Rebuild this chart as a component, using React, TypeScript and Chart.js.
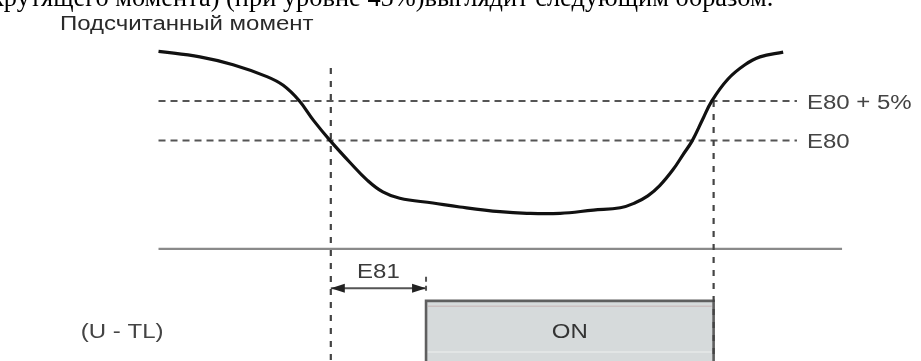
import React, { useEffect, useRef } from "react";
import { Chart, registerables } from "chart.js";

Chart.register(...registerables);

// ---- data ----
const timeAxis = [0, 6.6, 11.9, 17.3, 19.9, 22.4, 24.8, 27.4, 30.6, 33.3, 35.8, 38.5, 43.8, 48.1, 54.5, 58.8, 64.1, 69.4, 73.7, 76.0, 78.1, 80.0, 82.1, 83.7, 85.2, 86.8, 88.3, 90.9, 93.6, 96.0, 99.7];
const torque = [91.3, 90.6, 89.6, 88.1, 87.0, 85.1, 82.5, 80.0, 77.2, 75.0, 73.5, 72.7, 72.1, 71.6, 71.0, 70.8, 70.8, 71.2, 71.5, 72.1, 73.0, 74.3, 76.3, 78.2, 80.0, 82.6, 85.0, 87.8, 89.6, 90.6, 91.2];

const thresholdLabels = ["E80 + 5%", "E80"];
const thresholdValues = [85, 80];
const thresholdSpan = [0, 101.9];

const markerTimes = [27.5, 88.6];
const markerTops = [89.2, 85.0];

const baselineLevel = 66.3;
const baselineSpan = [0, 109.1];

const onWindow = [42.7, 88.6];
const onLevel = 1;
const offLevel = 0;
const onInnerLevels = [0.91, 0.15];
const delayLevel = 1.21;
const delayTick = [1.4, 1.12];

const titleText = "Подсчитанный момент";
const captionText = "крутящего момента) (при уровне 45%)выглядит следующим образом.";
const delayLabel = "E81";
const onLabel = "ON";
const signalLabel = "(U - TL)";

const X_RANGE = [-25.3, 121.7];
const Y_RANGE = [52.1, 97.8];
const SIG_RANGE = [0, 6];

const SANS = '"Liberation Sans", Arial, sans-serif';
const STRETCH = 1.2;

function drawText(ctx: any, text: string, x: number, y: number, align: string, color: string, baseline = "middle") {
  ctx.save();
  ctx.translate(x, y);
  ctx.scale(STRETCH, 1);
  ctx.font = "20px " + SANS;
  ctx.fillStyle = color;
  ctx.textAlign = align;
  ctx.textBaseline = baseline;
  ctx.fillText(text, 0, 0);
  ctx.restore();
}

const labelsPlugin = {
  id: "diagramLabels",
  afterDatasetsDraw(chart: any) {
    const { ctx } = chart;
    const x = chart.scales.x;
    const y = chart.scales.y;
    const s = chart.scales.ySig;
    ctx.save();

    // arrowheads for E81
    const pts = chart.getDatasetMeta(6).data;
    if (pts && pts.length === 2) {
      const p0 = pts[0];
      const p1 = pts[1];
      ctx.fillStyle = "#222";
      ctx.beginPath();
      ctx.moveTo(p0.x, p0.y);
      ctx.lineTo(p0.x + 14, p0.y - 4.5);
      ctx.lineTo(p0.x + 14, p0.y + 4.5);
      ctx.closePath();
      ctx.fill();
      ctx.beginPath();
      ctx.moveTo(p1.x, p1.y);
      ctx.lineTo(p1.x - 14, p1.y - 4.5);
      ctx.lineTo(p1.x - 14, p1.y + 4.5);
      ctx.closePath();
      ctx.fill();
      drawText(ctx, delayLabel, (p0.x + p1.x) / 2, p0.y - 16, "center", "#3a3a3a");
    }

    // threshold labels
    thresholdLabels.forEach((lab, i) => {
      drawText(ctx, lab, x.getPixelForValue(thresholdSpan[1]) + 10, y.getPixelForValue(thresholdValues[i]) + 2, "left", "#444");
    });

    // ON label
    drawText(
      ctx,
      onLabel,
      (x.getPixelForValue(onWindow[0]) + x.getPixelForValue(onWindow[1])) / 2,
      s.getPixelForValue(0.48),
      "center",
      "#333"
    );

    // signal name
    drawText(ctx, signalLabel, x.getPixelForValue(-5.8), s.getPixelForValue(0.47), "center", "#444");

    // title
    drawText(ctx, titleText, 60, 29.5, "left", "#2a2a2a", "alphabetic");

    ctx.restore();
  },
};

export default function App() {
  const ref = useRef<HTMLCanvasElement | null>(null);

  useEffect(() => {
    if (!ref.current) return;
    const line = (data: any[], extra: any) => ({
      type: "line",
      data,
      showLine: true,
      pointRadius: 0,
      pointHoverRadius: 0,
      fill: false,
      tension: 0,
      ...extra,
    });
    const datasets: any[] = [
      // 0 torque curve
      line(
        timeAxis.map((t, i) => ({ x: t, y: torque[i] })),
        { borderColor: "#111", borderWidth: 3.2, tension: 0.4, order: 0 }
      ),
      // 1,2 thresholds
      ...thresholdValues.map((v) =>
        line(
          [
            { x: thresholdSpan[0], y: v },
            { x: thresholdSpan[1], y: v },
          ],
          { borderColor: "#555", borderWidth: 2, borderDash: [7, 5], order: 4 }
        )
      ),
      // 3,4 vertical markers
      ...markerTimes.map((t, i) =>
        line(
          [
            { x: t, y: markerTops[i] },
            { x: t, y: Y_RANGE[0] },
          ],
          { borderColor: "#444", borderWidth: 2.2, borderDash: [6, 7], order: 2 }
        )
      ),
      // 5 baseline
      line(
        [
          { x: baselineSpan[0], y: baselineLevel },
          { x: baselineSpan[1], y: baselineLevel },
        ],
        { borderColor: "#8a8a8a", borderWidth: 2.4, order: 3 }
      ),
      // 6 delay arrow (E81)
      line(
        [
          { x: markerTimes[0], y: delayLevel },
          { x: onWindow[0], y: delayLevel },
        ],
        { yAxisID: "ySig", borderColor: "#555", borderWidth: 2, order: 1 }
      ),
      // 7 delay tick
      line(
        [
          { x: onWindow[0], y: delayTick[0] },
          { x: onWindow[0], y: delayTick[1] },
        ],
        { yAxisID: "ySig", borderColor: "#555", borderWidth: 2, borderDash: [5, 4], order: 1 }
      ),
      // 8 ON box
      line(
        [
          { x: onWindow[0], y: offLevel },
          { x: onWindow[0], y: onLevel },
          { x: onWindow[1], y: onLevel },
          { x: onWindow[1], y: offLevel },
        ],
        { yAxisID: "ySig", borderColor: "#5f5f5f", borderWidth: 2.6, backgroundColor: "#d6dadb", fill: "origin", order: 7 }
      ),
      // 9,10 faint inner lines of the ON box
      ...onInnerLevels.map((lv, i) =>
        line(
          [
            { x: onWindow[0] + 0.3, y: lv },
            { x: onWindow[1] - 0.3, y: lv },
          ],
          { yAxisID: "ySig", borderColor: i === 0 ? "#cbbfc0" : "#e6e8e8", borderWidth: 1.5, order: 6 }
        )
      ),
    ];

    const chart = new Chart(ref.current, {
      type: "scatter",
      data: { datasets },
      options: {
        animation: false,
        responsive: false,
        devicePixelRatio: 1,
        layout: { padding: 0 },
        plugins: { legend: { display: false }, tooltip: { enabled: false }, title: { display: false } },
        events: [],
        scales: {
          x: { type: "linear", min: X_RANGE[0], max: X_RANGE[1], display: false },
          y: { type: "linear", min: Y_RANGE[0], max: Y_RANGE[1], display: false },
          ySig: { type: "linear", min: SIG_RANGE[0], max: SIG_RANGE[1], display: false },
        },
      },
      plugins: [labelsPlugin],
    } as any);
    return () => chart.destroy();
  }, []);

  return (
    <div style={{ position: "absolute", left: 0, top: 0, width: 921, height: 361, overflow: "hidden", background: "#fff" }}>
      <canvas ref={ref} width={921} height={361} style={{ display: "block", position: "absolute", left: 0, top: 0 }} />
      <div
        style={{
          position: "absolute",
          left: -9,
          top: -16,
          whiteSpace: "nowrap",
          fontFamily: '"Liberation Serif", "Times New Roman", serif',
          fontSize: 26.4,
          lineHeight: "26px",
          color: "#000",
        }}
      >
        {captionText}
      </div>
    </div>
  );
}
